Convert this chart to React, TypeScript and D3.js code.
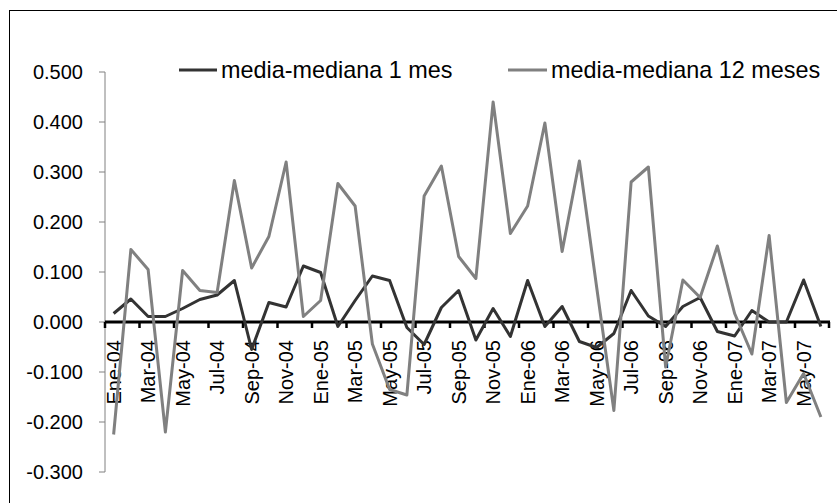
import React from "react";
import * as d3 from "d3";

const categories = [
  "Ene-04","Feb-04","Mar-04","Abr-04","May-04","Jun-04","Jul-04","Ago-04","Sep-04","Oct-04","Nov-04","Dic-04",
  "Ene-05","Feb-05","Mar-05","Abr-05","May-05","Jun-05","Jul-05","Ago-05","Sep-05","Oct-05","Nov-05","Dic-05",
  "Ene-06","Feb-06","Mar-06","Abr-06","May-06","Jun-06","Jul-06","Ago-06","Sep-06","Oct-06","Nov-06","Dic-06",
  "Ene-07","Feb-07","Mar-07","Abr-07","May-07","Jun-07",
];

const serie1Mes = [
  0.017, 0.046, 0.011, 0.011, 0.027, 0.045, 0.054, 0.083, -0.055, 0.039, 0.03, 0.112,
  0.099, -0.009, 0.043, 0.092, 0.083, -0.011, -0.045, 0.029, 0.063, -0.036, 0.027, -0.029,
  0.083, -0.009, 0.031, -0.039, -0.051, -0.023, 0.063, 0.012, -0.009, 0.031, 0.049, -0.019,
  -0.028, 0.023, 0.0, 0.0, 0.084, -0.009,
];

const serie12Meses = [
  -0.225, 0.145, 0.105, -0.22, 0.103, 0.063, 0.059, 0.283, 0.108, 0.171, 0.32, 0.011,
  0.043, 0.277, 0.232, -0.044, -0.135, -0.146, 0.252, 0.312, 0.131, 0.087, 0.44, 0.177,
  0.232, 0.398, 0.141, 0.322, 0.07, -0.177, 0.28, 0.31, -0.09, 0.084, 0.049, 0.152,
  0.017, -0.064, 0.173, -0.161, -0.103, -0.19,
];

const yTicks = [-0.3, -0.2, -0.1, 0, 0.1, 0.2, 0.3, 0.4, 0.5];

const seriesNames = ["media-mediana 1 mes", "media-mediana 12 meses"];
const seriesColors = ["#333333", "#808080"];

const W = 837;
const H = 503;
const FONT = "'Liberation Sans', Arial, sans-serif";

const fmt = (v: number) => (v < 0 ? "-" : "") + Math.abs(v).toFixed(3);

export default function App() {
  const x = d3.scaleBand<string>().domain(categories).range([105, 829.5]).padding(0);
  const y = d3.scaleLinear().domain([-0.3, 0.5]).range([472, 72]);
  const bw = x.bandwidth();
  const cx = (c: string) => (x(c) as number) + bw / 2;

  const line = d3
    .line<number>()
    .x((_, i) => cx(categories[i]))
    .y((d) => y(d));

  const allSeries = [serie1Mes, serie12Meses];
  const tickCats = categories.filter((_, i) => i % 2 === 0);
  const y0 = y(0);

  return (
    <svg
      width={W}
      height={H}
      style={{ position: "absolute", left: 0, top: 0, background: "#fff" }}
      fontFamily={FONT}
    >
      <rect x={0} y={0} width={W} height={H} fill="#fff" />
      <rect x={9.5} y={10.5} width={840} height={500} fill="none" stroke="#000" strokeWidth={1} />

      {/* Y axis */}
      <line x1={105} x2={105} y1={y(0.5)} y2={y(-0.3)} stroke="#808080" strokeWidth={1} />
      {yTicks.map((t) => (
        <g key={t}>
          <line x1={99} x2={105} y1={y(t)} y2={y(t)} stroke="#808080" strokeWidth={1} />
          <text
            x={83}
            y={y(t)}
            textAnchor="end"
            dominantBaseline="central"
            fontSize={20}
            fill="#000"
          >
            {fmt(t)}
          </text>
        </g>
      ))}

      {/* X axis at zero */}
      <line x1={105} x2={830} y1={y0} y2={y0} stroke="#000" strokeWidth={3} />
      {tickCats.map((c) => (
        <line
          key={"t" + c}
          x1={x(c) as number}
          x2={x(c) as number}
          y1={y0}
          y2={y0 + 6}
          stroke="#000"
          strokeWidth={2.5}
        />
      ))}
      <line x1={829} x2={829} y1={y0} y2={y0 + 6} stroke="#000" strokeWidth={2.5} />
      {tickCats.map((c) => (
        <text
          key={"l" + c}
          transform={`translate(${cx(c)},${y0 + 18}) rotate(-90)`}
          textAnchor="end"
          dominantBaseline="central"
          fontSize={20}
          fill="#000"
        >
          {c}
        </text>
      ))}

      {/* Series */}
      {allSeries.map((s, k) => (
        <path
          key={k}
          d={line(s) || ""}
          fill="none"
          stroke={seriesColors[k]}
          strokeWidth={3}
          strokeLinejoin="round"
        />
      ))}

      {/* Legend */}
      <g>
        <line x1={179} x2={217} y1={70} y2={70} stroke={seriesColors[0]} strokeWidth={3} />
        <text x={221} y={70} dominantBaseline="central" fontSize={23.4} fill="#000">
          {seriesNames[0]}
        </text>
        <line x1={508} x2={547} y1={70} y2={70} stroke={seriesColors[1]} strokeWidth={3} />
        <text x={551} y={70} dominantBaseline="central" fontSize={23.4} fill="#000">
          {seriesNames[1]}
        </text>
      </g>
    </svg>
  );
}
